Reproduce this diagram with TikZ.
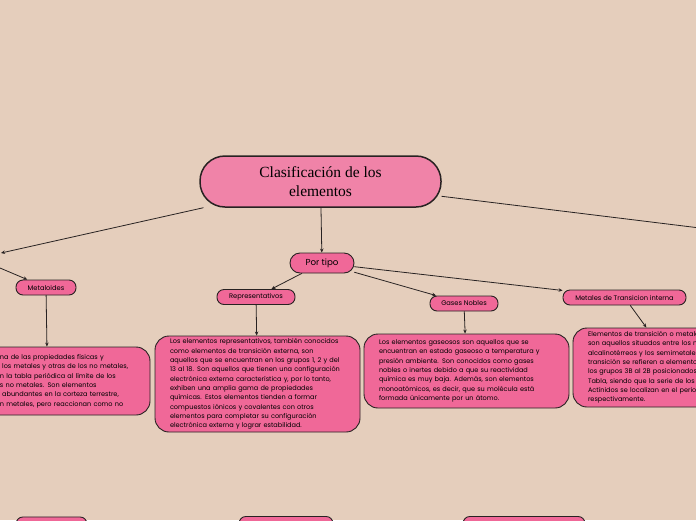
\documentclass[tikz,border=0pt]{standalone}
\usepackage{fontspec}
\setmainfont{Liberation Serif}
\newfontfamily\boxfont{Poppins}
\usetikzlibrary{arrows.meta}
\usepackage{xcolor}
\definecolor{bgbeige}{RGB}{229,206,188}
\definecolor{mainpink}{RGB}{240,131,168}
\definecolor{hotpink}{RGB}{240,104,152}
\definecolor{edgegray}{RGB}{40,34,34}
% hidden start of a line cut by the left edge
\newcommand{\cutstart}[1]{\makebox[40pt][r]{#1}}

\begin{document}
\begin{tikzpicture}[x=1pt,y=-1pt,>={Stealth[length=4pt,width=3.5pt]},line cap=round,
  topic/.style={draw=edgegray,line width=0.9pt,fill=hotpink,rounded corners=7pt,inner sep=0pt,minimum height=15pt,font=\boxfont\fontsize{6.7}{7}\selectfont},
  textbox/.style={draw=edgegray,line width=0.9pt,fill=hotpink,rounded corners=14pt,align=left,text width=175pt,inner xsep=15pt,inner ysep=0pt,font=\boxfont\fontsize{6.55}{9.33}\selectfont},
  link/.style={->,draw=edgegray,line width=0.8pt}]
\useasboundingbox (0,0) rectangle (696,520);
\fill[bgbeige] (0,0) rectangle (696,520);
\begin{scope}
\clip (0,0) rectangle (696,520);
% main topic
\node[draw=edgegray,line width=1.5pt,fill=mainpink,rounded corners=25pt,minimum width=241pt,minimum height=51pt,align=center,font=\fontsize{15.5}{19.5}\selectfont] (clasif) at (320.5,181.5) {Clasificación de los\\elementos};
\coordinate (lin) at (1,253);
\coordinate (lout) at (0,268);
\coordinate (rout) at (700,228);
% subtopics
\node[topic,minimum width=64pt,minimum height=20pt,rounded corners=10pt,font=\boxfont\fontsize{8.7}{10}\selectfont] (portipo) at (322,263) {Por tipo};
\node[topic,minimum width=60pt] (metaloid) at (46,287.5) {Metaloides};
\node[topic,minimum width=78pt] (repr) at (256,297) {Representativos};
\node[topic,minimum width=68pt] (gases) at (464,303.5) {Gases Nobles};
\node[topic,minimum width=123pt] (mettrans) at (624.5,297.5) {Metales de Transicion interna};
% text boxes
\node[textbox,minimum height=68pt] (metaloidtxt) at (47.5,381) {\cutstart{Tienen algu}na de las propiedades físicas y\\\cutstart{químicas de} los metales y otras de los no metales,\\\cutstart{se ubica e}n la tabla periódica al límite de los\\\cutstart{metales y lo}s no metales. Son elementos\\\cutstart{bastante} abundantes en la corteza terrestre,\\\cutstart{Se parece}n metales, pero reaccionan como no};
\node[textbox,minimum height=96pt] (reprtxt) at (257.5,384) {Los elementos representativos, también conocidos\\como elementos de transición externa, son\\aquellos que se encuentran en los grupos 1, 2 y del\\13 al 18. Son aquellos que tienen una configuración\\electrónica externa característica y, por lo tanto,\\exhiben una amplia gama de propiedades\\químicas. Estos elementos tienden a formar\\compuestos iónicos y covalentes con otros\\elementos para completar su configuración\\electrónica externa y lograr estabilidad.};
\node[textbox,minimum height=74pt] (gasestxt) at (466.5,371) {Los elementos gaseosos son aquellos que se\\encuentran en estado gaseoso a temperatura y\\presión ambiente. Son conocidos como gases\\nobles o inertes debido a que su reactividad\\química es muy baja. Además, son elementos\\monoatómicos, es decir, que su molécula está\\formada únicamente por un átomo.};
\node[textbox,minimum height=79pt] (mettranstxt) at (675.5,367.5) {Elementos de transición o metales de\\son aquellos situados entre los metales\\alcalinotérreos y los semimetales. Los de\\transición se refieren a elementos en\\los grupos 3B al 2B posicionados en la\\Tabla, siendo que la serie de los Lantánidos y\\Actínidos se localizan en el periodo 6 y 7,\\respectivamente.};
% nodes below the frame
\node[topic,minimum width=71pt,minimum height=30pt,anchor=north] (low1) at (51.5,516.5) {};
\node[topic,minimum width=94pt,minimum height=30pt,anchor=north] (low2) at (286,516) {};
\node[topic,minimum width=122pt,minimum height=30pt,anchor=north] (low3) at (524,516) {};
% connectors
\draw[link] (clasif) -- (lin);
\draw[link] (lout) -- (metaloid);
\draw[draw=edgegray,line width=0.8pt] (clasif) -- (rout);
\draw[link] (clasif) -- (portipo);
\draw[link] (portipo) -- (repr);
\draw[link] (portipo) -- (gases);
\draw[link] (portipo) -- (mettrans);
\draw[link] (metaloid) -- (metaloidtxt);
\draw[link] (repr) -- (reprtxt);
\draw[link] (gases) -- (gasestxt);
\draw[link] (mettrans) -- (mettranstxt);
\end{scope}
\end{tikzpicture}
\end{document}
